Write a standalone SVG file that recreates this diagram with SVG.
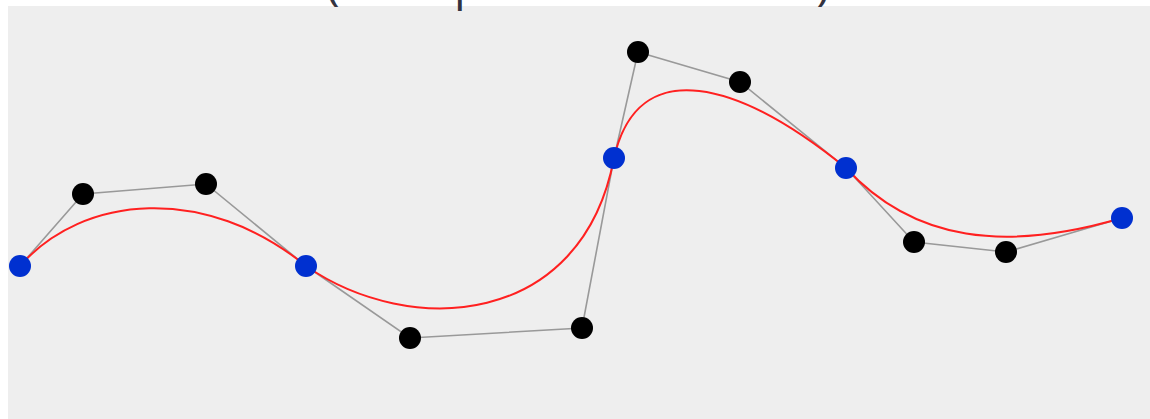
<svg xmlns="http://www.w3.org/2000/svg" width="1150" height="419" viewBox="0 0 1150 419">
  <style>
    .title { font-family: "Open Sans", "Noto Sans", "Liberation Sans", sans-serif; font-size: 46px; fill: #333340; }
    .ctrl { fill: none; stroke: #999999; stroke-width: 1.6; }
    .curve { fill: none; stroke: #ff2020; stroke-width: 2; }
    .anchor { fill: #0030d0; }
    .handle { fill: #000000; }
  </style>
  <rect x="0" y="0" width="1150" height="419" fill="#ffffff"/>
  <rect x="8" y="6" width="1142" height="413" fill="#eeeeee"/>
  <text class="title" y="0"><tspan x="326">(com</tspan><tspan x="454" textLength="376" lengthAdjust="spacing">posite Bézier curve)</tspan></text>
  <g id="connectors">
    <polyline class="ctrl" points="20,266 83,194 206,184 306,266 410,338 582,328 614,158 638,52 740,82 846,168 914,242 1006,252 1122,218"/>
    <path class="curve" d="M20,266 C83,194 206,184 306,266 C410,338 582,328 614,158 C638,52 740,82 846,168 C914,242 1006,252 1122,218"/>
  </g>
  <g id="h1"><circle class="handle" cx="83" cy="194" r="11"/></g>
  <g id="h2"><circle class="handle" cx="206" cy="184" r="11"/></g>
  <g id="h3"><circle class="handle" cx="410" cy="338" r="11"/></g>
  <g id="h4"><circle class="handle" cx="582" cy="328" r="11"/></g>
  <g id="h5"><circle class="handle" cx="638" cy="52" r="11"/></g>
  <g id="h6"><circle class="handle" cx="740" cy="82" r="11"/></g>
  <g id="h7"><circle class="handle" cx="914" cy="242" r="11"/></g>
  <g id="h8"><circle class="handle" cx="1006" cy="252" r="11"/></g>
  <g id="p0"><circle class="anchor" cx="20" cy="266" r="11"/></g>
  <g id="p1"><circle class="anchor" cx="306" cy="266" r="11"/></g>
  <g id="p2"><circle class="anchor" cx="614" cy="158" r="11"/></g>
  <g id="p3"><circle class="anchor" cx="846" cy="168" r="11"/></g>
  <g id="p4"><circle class="anchor" cx="1122" cy="218" r="11"/></g>
</svg>
